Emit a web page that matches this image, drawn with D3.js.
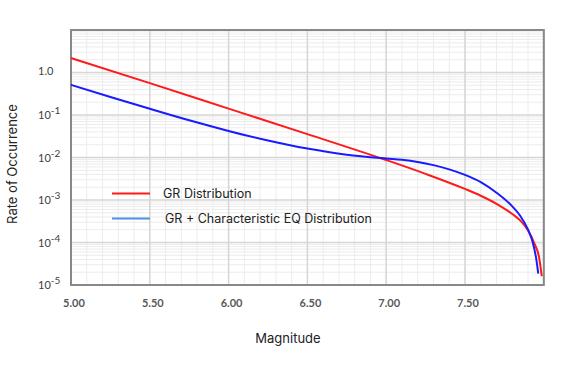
<!DOCTYPE html>
<html><head><meta charset="utf-8">
<script src="https://cdn.jsdelivr.net/npm/d3@7"></script>
<style>body{margin:0;background:#fff}svg{display:block}</style>
</head><body>
<svg id="c" width="562" height="377"></svg>
<script>
// Data
const grMag = [5.0, 5.5, 6.0, 6.5, 7.0, 7.25, 7.5, 7.6, 7.7, 7.8, 7.85, 7.9, 7.94, 7.97, 7.987];
const grRate = [2.19, 0.562, 0.141, 0.0355, 0.00871, 0.00412, 0.00182, 0.00126, 0.000813, 0.000468, 0.000331, 0.000191, 9.55e-5, 4.47e-5, 1.62e-5];
const chMag = [5.0, 5.25, 5.5, 5.75, 6.0, 6.25, 6.5, 6.75, 7.0, 7.1, 7.2, 7.3, 7.4, 7.5, 7.6, 7.7, 7.8, 7.85, 7.9, 7.93, 7.95, 7.965];
const chRate = [0.513, 0.266, 0.140, 0.0750, 0.0422, 0.0251, 0.0162, 0.0116, 0.00944, 0.00881, 0.00785, 0.00661, 0.00525, 0.00389, 0.00263, 0.00148, 0.000708, 0.000427, 0.000200, 0.000100, 4.57e-5, 1.86e-5];
const xTicks = [5.0, 5.5, 6.0, 6.5, 7.0, 7.5];
const yTicks = [1, 0.1, 0.01, 0.001, 1e-4, 1e-5];
const seriesNames = ["GR Distribution", "GR + Characteristic EQ Distribution"];

const svg = d3.select("#c");
const L = 71, R = 543.8, T = 30, B = 285;
const x = d3.scaleLinear().domain([5, 8]).range([L, R]);
const y = d3.scaleLog().domain([1e-5, 10]).range([B, T]);

const g = svg.append("g");
// minor vertical grid
const minorX = d3.range(5, 8.0001, 0.1).map(v => +v.toFixed(1));
g.selectAll(".mvx").data(minorX).join("line")
  .attr("x1", d => x(d)).attr("x2", d => x(d)).attr("y1", T).attr("y2", B)
  .attr("stroke", "#ececec").attr("stroke-width", 1);
// minor horizontal grid
const minorY = [];
for (let e = -5; e < 1; e++) for (let k = 2; k <= 9; k++) minorY.push(k * Math.pow(10, e));
g.selectAll(".mhy").data(minorY).join("line")
  .attr("x1", L).attr("x2", R).attr("y1", d => y(d)).attr("y2", d => y(d))
  .attr("stroke", "#ececec").attr("stroke-width", 1);
// major grid
g.selectAll(".Mvx").data(xTicks.concat([8.0])).join("line")
  .attr("x1", d => x(d)).attr("x2", d => x(d)).attr("y1", T).attr("y2", B)
  .attr("stroke", "#d6d6d6").attr("stroke-width", 1.5);
g.selectAll(".Mhy").data(yTicks.concat([10])).join("line")
  .attr("x1", L).attr("x2", R).attr("y1", d => y(d)).attr("y2", d => y(d))
  .attr("stroke", "#d6d6d6").attr("stroke-width", 1.5);

// frame
svg.append("rect").attr("x", L).attr("y", T).attr("width", R - L).attr("height", B - T)
  .attr("fill", "none").attr("stroke", "#888").attr("stroke-width", 2);

// y tick labels
const yl = svg.append("g").attr("font-family", "Lato, 'Open Sans', sans-serif").attr("fill", "#404040");
yTicks.forEach(v => {
  const e = Math.round(Math.log10(v));
  const t = yl.append("text").attr("x", 38).attr("y", y(v) + 4).attr("font-size", 11);
  if (e === 0) { t.text("1.0"); t.attr("y", y(v) + 2); }
  else {
    t.append("tspan").text("10");
    t.append("tspan").attr("dy", -5).attr("font-size", 10).text(String(e));
  }
});

// x tick labels
svg.append("g").selectAll("text").data(xTicks).join("text")
  .attr("x", d => x(d) + 3).attr("y", 307).attr("text-anchor", "middle")
  .attr("font-family", "Lato, 'Open Sans', sans-serif").attr("font-size", 11).attr("font-weight", "bold")
  .attr("fill", "#595959").text(d => d.toFixed(2));

// axis titles
svg.append("text").attr("x", 288).attr("y", 343).attr("text-anchor", "middle")
  .attr("font-family", "Inter, 'Open Sans', sans-serif").attr("font-size", 13).attr("fill", "#222").text("Magnitude");
svg.append("text").attr("transform", "translate(17,164) rotate(-90)").attr("text-anchor", "middle")
  .attr("font-family", "Inter, 'Open Sans', sans-serif").attr("font-size", 13).attr("fill", "#222").text("Rate of Occurrence");

// curves
const line = d3.line().x(d => x(d[0])).y(d => y(d[1])).curve(d3.curveMonotoneX);
svg.append("path").datum(d3.zip(grMag, grRate)).attr("d", line)
  .attr("fill", "none").attr("stroke", "#ff1a1a").attr("stroke-width", 2);
svg.append("path").datum(d3.zip(chMag, chRate)).attr("d", line)
  .attr("fill", "none").attr("stroke", "#1a1aff").attr("stroke-width", 2);

// legend
const lg = svg.append("g");
const legColors = ["#ff1a1a", "#4a90e2"];
const legY = [193.5, 218.5];
const legTx = [163, 165];
seriesNames.forEach((n, i) => {
  lg.append("line").attr("x1", 112).attr("x2", 150).attr("y1", legY[i]).attr("y2", legY[i])
    .attr("stroke", legColors[i]).attr("stroke-width", 2);
  lg.append("text").attr("x", legTx[i]).attr("y", legY[i] + 4.5)
    .attr("font-family", "Inter, 'Open Sans', sans-serif").attr("font-size", 12.5).attr("fill", "#222").text(n);
});
</script>
</body></html>
